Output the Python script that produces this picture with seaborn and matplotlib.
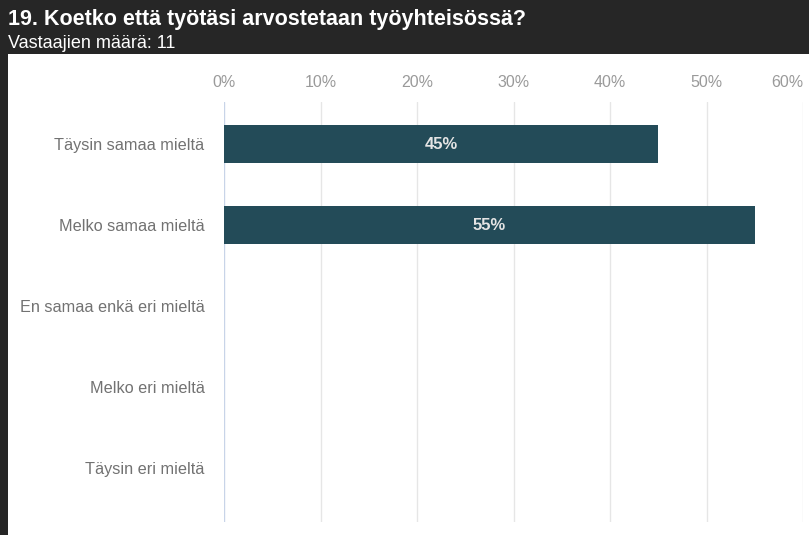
import matplotlib
matplotlib.use("Agg")
import matplotlib.pyplot as plt
import matplotlib.patches as mpatches
import seaborn as sns
import pandas as pd

# Survey answers
categories = [
    "Täysin samaa mieltä",
    "Melko samaa mieltä",
    "En samaa enkä eri mieltä",
    "Melko eri mieltä",
    "Täysin eri mieltä",
]
shares = [45, 55, 0, 0, 0]
tick_values = [0, 10, 20, 30, 40, 50, 60]
tick_labels = ["0%", "10%", "20%", "30%", "40%", "50%", "60%"]
title = "19. Koetko että työtäsi arvostetaan työyhteisössä?"
subtitle = "Vastaajien määrä: 11"

df = pd.DataFrame({"category": categories, "share": shares})

sns.set_theme(style="white")
plt.rcParams["font.family"] = ["Liberation Sans", "DejaVu Sans"]

W, H = 809, 535
fig = plt.figure(figsize=(W / 100, H / 100), dpi=100)
fig.patch.set_facecolor("white")

# Dark header band and left border
fig.add_artist(mpatches.Rectangle((0, 1 - 54 / H), 1, 54 / H, transform=fig.transFigure,
                                  facecolor="#262626", edgecolor="none", zorder=0))
fig.add_artist(mpatches.Rectangle((0, 0), 8 / W, 1, transform=fig.transFigure,
                                  facecolor="#262626", edgecolor="none", zorder=0))
fig.text(8 / W, 1 - 20 / H, title, color="white", fontsize=15.5, fontweight="bold",
         va="center", ha="left")
fig.text(8 / W, 1 - 44 / H, subtitle, color="white", fontsize=13,
         va="center", ha="left")

left, right, top, bottom = 224, 803, 102, 522
ax = fig.add_axes([left / W, 1 - bottom / H, (right - left) / W, (bottom - top) / H])

sns.barplot(data=df, x="share", y="category", orient="h", color="#234b58",
            width=0.47, saturation=1, linewidth=0, ax=ax, zorder=3)

ax.set_xlim(0, 60)
ax.set_ylim(4.67, -0.52)
ax.set_xticks(tick_values)
ax.set_xticklabels(tick_labels)
ax.xaxis.tick_top()
ax.tick_params(axis="x", length=0, pad=9, labelsize=11.5, labelcolor="#9a9a9a")
ax.tick_params(axis="y", length=0, pad=14, labelsize=11.7, labelcolor="#727272")
lbls = ax.get_xticklabels()
lbls[-1].set_horizontalalignment("right")
lbls[-1].set_x(60)
ax.set_xlabel("")
ax.set_ylabel("")
for s in ax.spines.values():
    s.set_visible(False)

for v in tick_values:
    ax.axvline(v, color="#c8d4e8" if v == 0 else "#e6e6e6", lw=1, zorder=1)

for i, val in enumerate(shares):
    if val > 0:
        ax.text(val / 2, i, f"{val}%", ha="center", va="center", color="#e4e4e4",
                fontsize=12, fontweight="bold", zorder=4)

fig.savefig("out.png", dpi=100)
